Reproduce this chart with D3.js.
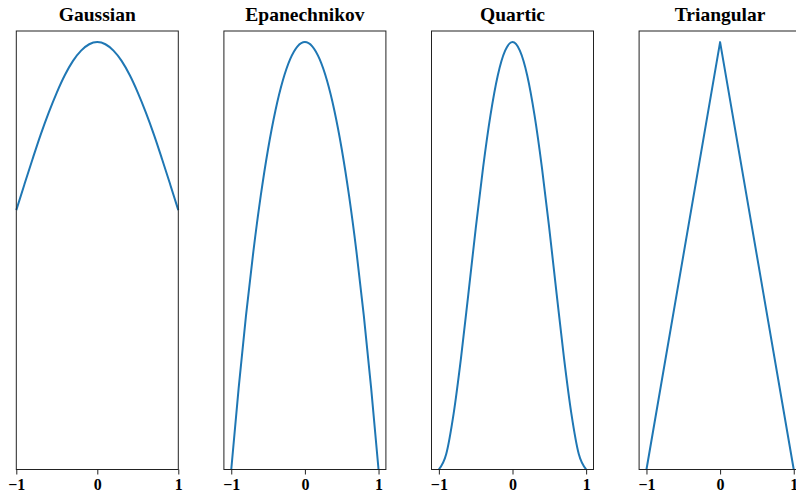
<!DOCTYPE html>
<html>
<head>
<meta charset="utf-8">
<script src="https://cdn.jsdelivr.net/npm/d3@7"></script>
<style>
  html, body { margin: 0; padding: 0; background: #fff; }
  svg { display: block; }
  .title { font-family: "Liberation Serif", "Times New Roman", serif; font-weight: bold; font-size: 19.5px; }
  .tick text { font-family: "Liberation Serif", "Times New Roman", serif; font-weight: bold; font-size: 16px; }
</style>
</head>
<body>
<svg id="chart" width="796" height="497"></svg>
<script>
// Kernel names shown as panel titles
const kernels = ["Gaussian", "Epanechnikov", "Quartic", "Triangular"];

// Sample positions on [-1, 1]
const xSmooth = [-1, -0.9, -0.8, -0.7, -0.6, -0.5, -0.4, -0.3, -0.2, -0.1, 0,
                 0.1, 0.2, 0.3, 0.4, 0.5, 0.6, 0.7, 0.8, 0.9, 1];
const xTri = [-1, 0, 1];

// Kernel heights (peak scaled to 1)
const gaussian = [0.607, 0.667, 0.726, 0.783, 0.835, 0.882, 0.923, 0.956, 0.980, 0.995, 1,
                  0.995, 0.980, 0.956, 0.923, 0.882, 0.835, 0.783, 0.726, 0.667, 0.607];
const epanechnikov = [0, 0.19, 0.36, 0.51, 0.64, 0.75, 0.84, 0.91, 0.96, 0.99, 1,
                      0.99, 0.96, 0.91, 0.84, 0.75, 0.64, 0.51, 0.36, 0.19, 0];
const quartic = [0, 0.036, 0.130, 0.260, 0.410, 0.563, 0.706, 0.828, 0.922, 0.980, 1,
                 0.980, 0.922, 0.828, 0.706, 0.563, 0.410, 0.260, 0.130, 0.036, 0];
const triangular = [0, 1, 0];

const xTicks = [-1, 0, 1];

const panels = [
  { name: kernels[0], xs: xSmooth, ys: gaussian, smooth: true, pad: 0 },
  { name: kernels[1], xs: xSmooth, ys: epanechnikov, smooth: true, pad: 0.1 },
  { name: kernels[2], xs: xSmooth, ys: quartic, smooth: true, pad: 0.1 },
  { name: kernels[3], xs: xTri, ys: triangular, smooth: false, pad: 0.1 }
];

const svg = d3.select("#chart");
const panelW = 162, step = 207.6, left0 = 16.3;
const plotTop = 31, plotBottom = 469.5;

const y = d3.scaleLinear().domain([0, 1.026]).range([plotBottom, plotTop]);

panels.forEach((p, i) => {
  const x0 = left0 + i * step;
  const x = d3.scaleLinear()
    .domain([-1 - p.pad, 1 + p.pad])
    .range([x0, x0 + panelW]);

  const g = svg.append("g");

  // curve
  const line = d3.line()
    .x((d, k) => x(p.xs[k]))
    .y(d => y(d))
    .curve(p.smooth ? d3.curveMonotoneX : d3.curveLinear);

  g.append("path")
    .datum(p.ys)
    .attr("d", line)
    .attr("fill", "none")
    .attr("stroke", "#1f77b4")
    .attr("stroke-width", 2)
    .attr("stroke-linejoin", "round");

  // frame
  g.append("rect")
    .attr("x", x0).attr("y", plotTop)
    .attr("width", panelW).attr("height", plotBottom - plotTop)
    .attr("fill", "none")
    .attr("stroke", "#222")
    .attr("stroke-width", 1);

  // x axis
  const ax = g.append("g")
    .attr("transform", `translate(0,${plotBottom})`)
    .call(d3.axisBottom(x).tickValues(xTicks).tickSize(5).tickPadding(4)
      .tickFormat(d => d < 0 ? "\u2212" + Math.abs(d) : String(d)));
  ax.select(".domain").remove();
  ax.selectAll(".tick line").attr("stroke", "#222");
  ax.selectAll(".tick text").attr("fill", "#000");

  // title
  g.append("text")
    .attr("class", "title")
    .attr("x", x0 + panelW / 2)
    .attr("y", 21)
    .attr("text-anchor", "middle")
    .text(p.name);
});
</script>
</body>
</html>
